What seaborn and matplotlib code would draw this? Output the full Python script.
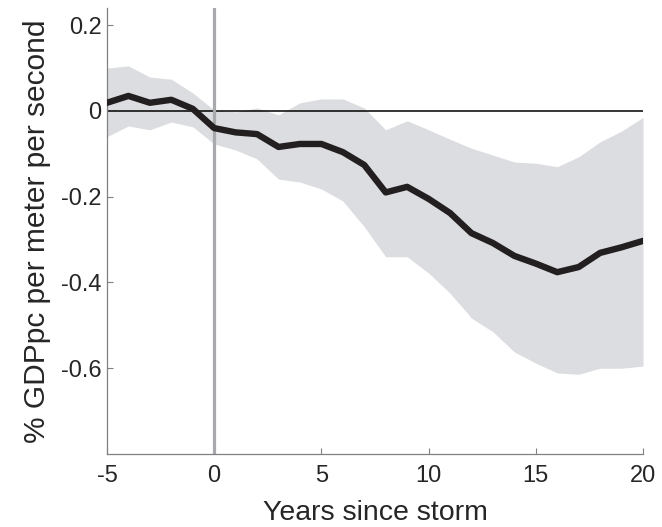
import numpy as np
import pandas as pd
import seaborn as sns
import matplotlib.pyplot as plt

years = list(range(-5, 21))
effect = [0.019, 0.035, 0.019, 0.026, 0.005, -0.040, -0.050, -0.054, -0.084, -0.077,
          -0.077, -0.096, -0.126, -0.190, -0.177, -0.205, -0.238, -0.285, -0.308, -0.338,
          -0.356, -0.376, -0.364, -0.331, -0.318, -0.303]
upper = [0.100, 0.105, 0.079, 0.074, 0.042, 0.002, -0.002, 0.007, -0.009, 0.019,
         0.028, 0.028, 0.007, -0.044, -0.023, -0.044, -0.066, -0.087, -0.103, -0.119,
         -0.122, -0.130, -0.107, -0.072, -0.047, -0.015]
lower = [-0.060, -0.035, -0.044, -0.026, -0.037, -0.077, -0.091, -0.112, -0.159, -0.166,
         -0.182, -0.210, -0.270, -0.340, -0.340, -0.378, -0.425, -0.483, -0.515, -0.562,
         -0.588, -0.611, -0.614, -0.600, -0.600, -0.595]

df = pd.DataFrame({'year': years, 'effect': effect, 'upper': upper, 'lower': lower})

sns.set_style('ticks')
plt.rcParams['font.family'] = ['Liberation Sans', 'DejaVu Sans']

fig = plt.figure(figsize=(6.62, 5.27), dpi=100)
ax = fig.add_axes([0.1616, 0.1385, 0.8097, 0.8463])

# confidence band, reference lines, then the estimate on top
ax.fill_between(df['year'], df['lower'], df['upper'], color='#dcdde0', linewidth=0, zorder=1)
ax.axhline(0, color='black', linewidth=1.1, zorder=2)
ax.axvline(0, color='#a7a9ac', linewidth=2.3, zorder=2)
sns.lineplot(data=df, x='year', y='effect', color='#231f20', linewidth=4.6, ax=ax, zorder=3)

ax.set_xlim(-5, 20)
ax.set_ylim(-0.8, 0.24)
ax.set_xticks([-5, 0, 5, 10, 15, 20])
ax.set_xticklabels(['-5', '0', '5', '10', '15', '20'])
ax.set_yticks([0.2, 0, -0.2, -0.4, -0.6])
ax.set_yticklabels(['0.2', '0', '-0.2', '-0.4', '-0.6'])
ax.tick_params(direction='in', length=4, width=0.8, color='#808080', labelsize=17)
ax.tick_params(axis='x', pad=8)
ax.tick_params(axis='y', pad=4)

sns.despine(ax=ax)
for s in ['left', 'bottom']:
    ax.spines[s].set_color('#808080')
    ax.spines[s].set_linewidth(0.9)

ax.set_xlabel('Years since storm', fontsize=20.5, labelpad=9)
ax.set_ylabel('% GDPpc per meter per second', fontsize=21.5, labelpad=7)

fig.savefig('out.png', dpi=100)
